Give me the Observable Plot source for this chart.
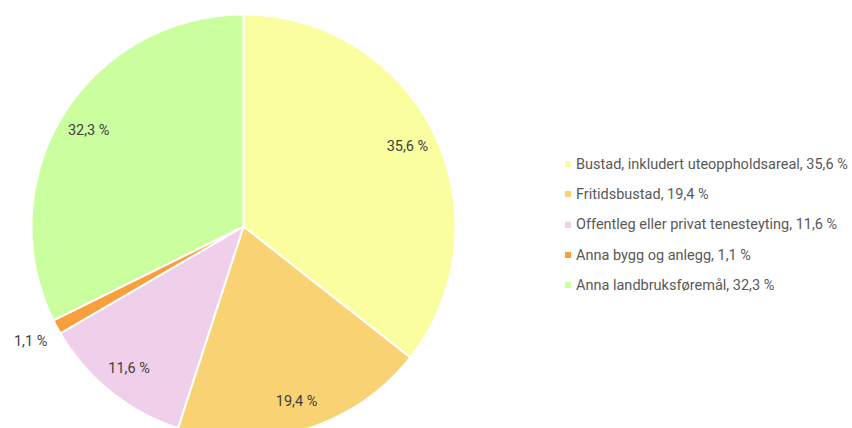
<!DOCTYPE html>
<html><head><meta charset="utf-8">
<script src="https://cdn.jsdelivr.net/npm/d3@7"></script>
<script src="https://cdn.jsdelivr.net/npm/@observablehq/plot@0.6"></script>
<style>
html,body{margin:0;padding:0;background:#fff;overflow:hidden}
#wrap{position:relative;width:852px;height:428px}
#chart{position:absolute;left:0;top:0}
#legend{position:absolute;left:565px;top:149px}
.lg-swatch{padding-bottom:0 !important;height:30.3px;margin:0 !important}
.lg-swatch svg{margin-right:5px !important}
</style></head><body>
<div id="wrap"><div id="chart"></div><div id="legend"></div></div>
<script>
const categories = ["Bustad, inkludert uteoppholdsareal", "Fritidsbustad", "Offentleg eller privat tenesteyting", "Anna bygg og anlegg", "Anna landbruksføremål"];
const shares = [35.6, 19.4, 11.6, 1.1, 32.3];
const colors = ["#FAFE9F", "#F9D274", "#F0CFEB", "#F99F3B", "#CBFE9E"];
const outsideLabel = [false, false, false, true, false];

const fmt = v => v.toFixed(1).replace(".", ",") + " %";
const total = d3.sum(shares);

// Build slice polygons from cumulative shares (clockwise from top)
const polys = [];
const labels = [];
let cum = 0;
categories.forEach((c, i) => {
  const a0 = cum / total * 2 * Math.PI;
  cum += shares[i];
  const a1 = cum / total * 2 * Math.PI;
  polys.push({cat: c, x: 0, y: 0});
  const n = Math.max(2, Math.ceil((a1 - a0) / (Math.PI / 360)));
  for (let k = 0; k <= n; k++) {
    const a = a0 + (a1 - a0) * k / n;
    polys.push({cat: c, x: Math.sin(a), y: Math.cos(a)});
  }
  polys.push({cat: c, x: 0, y: 0});
  const am = (a0 + a1) / 2;
  const r = outsideLabel[i] ? 1.14 : 0.86;
  labels.push({x: r * Math.sin(am), y: r * Math.cos(am), text: fmt(shares[i])});
});

const cx = 243, cy = 226, R = 212;
const plot = Plot.plot({
  width: 500,
  height: 428,
  margin: 0,
  style: {fontFamily: "Roboto, sans-serif", background: "transparent"},
  x: {type: "linear", domain: [-1, 1], range: [cx - R, cx + R], axis: null},
  y: {type: "linear", domain: [-1, 1], range: [cy + R, cy - R], axis: null},
  color: {domain: categories, range: colors},
  marks: [
    Plot.line(polys, {x: "x", y: "y", z: "cat", fill: "cat", stroke: "white", strokeWidth: 2, strokeLinejoin: "round", curve: "linear"}),
    Plot.text(labels, {x: "x", y: "y", text: "text", fill: "#404040", fontSize: 14.5})
  ]
});
document.getElementById("chart").appendChild(plot);

const legend = Plot.legend({
  color: {type: "ordinal", domain: categories, range: colors},
  columns: 1,
  swatchSize: 6,
  className: "lg",
  tickFormat: d => d + ", " + fmt(shares[categories.indexOf(d)]),
  style: {fontFamily: "Roboto, sans-serif", fontSize: "14.5px", color: "#595959", marginLeft: 0}
});
document.getElementById("legend").appendChild(legend);
</script>
</body></html>
